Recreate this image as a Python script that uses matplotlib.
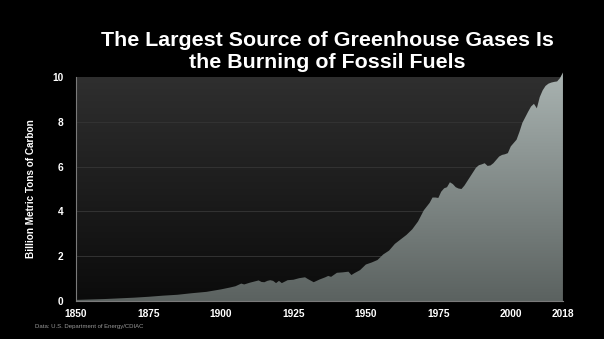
import matplotlib

matplotlib.use("Agg")

import matplotlib.pyplot as plt
import numpy as np
from matplotlib.colors import LinearSegmentedColormap


YEARS = [
    1850, 1855, 1860, 1865, 1870, 1875, 1880, 1885, 1890, 1895,
    1900, 1903, 1905, 1907, 1908, 1910, 1913, 1914, 1915, 1916,
    1917, 1918, 1919, 1920, 1921, 1923, 1925, 1927, 1929, 1930,
    1932, 1934, 1936, 1937, 1938, 1940, 1942, 1944, 1945, 1946,
    1948, 1950, 1952, 1954, 1956, 1958, 1960, 1962, 1964, 1966,
    1968, 1970, 1972, 1973, 1974, 1975, 1976, 1977, 1978, 1979,
    1980, 1981, 1982, 1983, 1984, 1985, 1986, 1987, 1988, 1989,
    1990, 1991, 1992, 1993, 1994, 1995, 1996, 1997, 1998, 1999,
    2000, 2001, 2002, 2003, 2004, 2005, 2006, 2007, 2008, 2009,
    2010, 2011, 2012, 2013, 2014, 2015, 2016, 2017, 2018,
]
EMISSIONS = [
    0.05, 0.07, 0.09, 0.12, 0.15, 0.19, 0.24, 0.28, 0.35, 0.41,
    0.52, 0.60, 0.66, 0.78, 0.74, 0.82, 0.92, 0.85, 0.84, 0.90,
    0.93, 0.90, 0.80, 0.90, 0.80, 0.93, 0.95, 1.02, 1.06, 0.98,
    0.84, 0.96, 1.06, 1.12, 1.08, 1.26, 1.28, 1.31, 1.16, 1.24,
    1.38, 1.63, 1.72, 1.83, 2.08, 2.25, 2.55, 2.75, 2.95, 3.20,
    3.55, 4.05, 4.38, 4.62, 4.62, 4.60, 4.88, 5.03, 5.08, 5.30,
    5.22, 5.08, 5.02, 5.00, 5.15, 5.35, 5.55, 5.75, 5.95, 6.06,
    6.10, 6.15, 6.03, 6.05, 6.15, 6.30, 6.45, 6.52, 6.55, 6.60,
    6.90, 7.05, 7.20, 7.55, 7.95, 8.20, 8.45, 8.68, 8.80, 8.60,
    9.10, 9.40, 9.60, 9.70, 9.75, 9.78, 9.80, 9.95, 10.20,
]
X_TICKS = [1850, 1875, 1900, 1925, 1950, 1975, 2000, 2018]
Y_TICKS = [0, 2, 4, 6, 8, 10]

TITLE = "The Largest Source of Greenhouse Gases Is\nthe Burning of Fossil Fuels"
Y_LABEL = "Billion Metric Tons of Carbon"
SOURCE = "Data: U.S. Department of Energy/CDIAC"


def main() -> None:
    plt.rcParams["font.family"] = ["Liberation Sans", "DejaVu Sans"]

    fig = plt.figure(figsize=(6.04, 3.39), dpi=100, facecolor="black")
    ax = fig.add_axes([0.126, 0.112, 0.806, 0.661])
    ax.set_facecolor("black")

    x0, x1 = YEARS[0], YEARS[-1]

    # dark panel gradient
    bg_cmap = LinearSegmentedColormap.from_list("bg", ["#0b0b0b", "#2f2f2f"])
    grad = np.linspace(0, 1, 256).reshape(-1, 1)
    ax.imshow(grad, cmap=bg_cmap, origin="lower", aspect="auto",
              extent=(x0, x1, 0, 10), zorder=0)

    for yv in Y_TICKS[1:-1]:
        ax.axhline(yv, color="#333333", lw=0.7, zorder=1)

    # area with light gradient, clipped to the data outline
    poly = ax.fill_between(YEARS, EMISSIONS, 0, color="none", lw=0, zorder=2)
    fill_cmap = LinearSegmentedColormap.from_list("fill", ["#5b6260", "#aab4b2"])
    img = ax.imshow(grad, cmap=fill_cmap, origin="lower", aspect="auto",
                    extent=(x0, x1, 0, 10.3), zorder=2)
    img.set_clip_path(poly.get_paths()[0], transform=ax.transData)
    img.set_clip_box(fig.bbox)

    ax.set_xlim(x0, x1)
    ax.set_ylim(0, 10)

    ax.set_xticks(X_TICKS, [str(t) for t in X_TICKS])
    ax.set_yticks(Y_TICKS, [str(t) for t in Y_TICKS])
    ax.tick_params(length=0, colors="white", labelsize=7.3, pad=6)
    for lab in ax.get_xticklabels() + ax.get_yticklabels():
        lab.set_fontweight("bold")
    ax.tick_params(axis="y", pad=9)

    for side in ["top", "right"]:
        ax.spines[side].set_visible(False)
    for side in ["left", "bottom"]:
        ax.spines[side].set_color("#7a7a7a")
        ax.spines[side].set_linewidth(0.8)

    ax.set_ylabel(Y_LABEL, color="white", fontsize=7.2, fontweight="bold", labelpad=12)

    fig.text(0.542, 0.848, TITLE, color="white", fontsize=15.4, fontweight="bold",
             ha="center", va="center", linespacing=1.17)
    fig.text(0.058, 0.038, SOURCE, color="#9a9a9a", fontsize=4.3, ha="left", va="center")

    fig.savefig("out.png", dpi=100, facecolor="black")
    plt.close(fig)


if __name__ == "__main__":
    main()
